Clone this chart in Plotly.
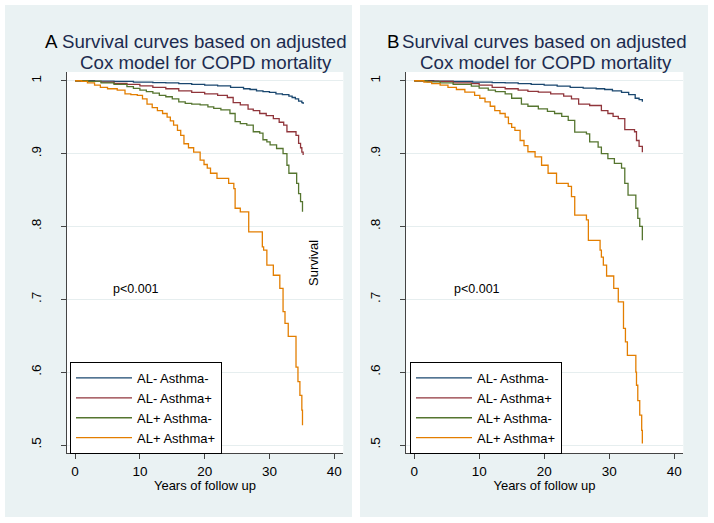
import plotly.graph_objects as go
from plotly.subplots import make_subplots

W, H = 714, 523

groups = ["AL- Asthma-", "AL- Asthma+", "AL+ Asthma-", "AL+ Asthma+"]
colors = ["#1a476f", "#90353b", "#55752f", "#e37e00"]

x_ticks = [0, 10, 20, 30, 40]
y_ticks = [0.5, 0.6, 0.7, 0.8, 0.9, 1.0]
y_ticktext = [".5", ".6", ".7", ".8", ".9", "1"]

# Panel A - years of follow up / survival (step curves)
a_blue_t = [0, 3, 6, 9, 12, 14, 16, 18, 20, 22, 24, 26, 27, 28, 29, 30, 31, 32, 33, 33.5, 34, 34.5, 35, 35.2]
a_blue_s = [1, 0.9995, 0.999, 0.998, 0.9975, 0.997, 0.996, 0.995, 0.994, 0.993, 0.991, 0.989, 0.988, 0.986,
            0.985, 0.984, 0.982, 0.981, 0.979, 0.977, 0.975, 0.972, 0.970, 0.968]
a_red_t = [0, 2, 4, 6, 8, 10, 12, 14, 16, 18, 20, 22, 23.5, 24.4, 25.5, 26.7, 27.5, 28.5, 29.5, 30.6, 31.5,
           32.2, 32.7, 34.1, 34.5, 34.8, 35.0, 35.2]
a_red_s = [1, 0.999, 0.998, 0.9965, 0.995, 0.993, 0.991, 0.989, 0.986, 0.984, 0.982, 0.980, 0.977, 0.970,
           0.967, 0.961, 0.959, 0.955, 0.952, 0.948, 0.943, 0.939, 0.930, 0.925, 0.914, 0.908, 0.902, 0.898]
a_green_t = [0, 2, 4, 6, 8, 9, 10, 11, 12, 13, 14, 15, 16, 17, 18, 19.3, 20.5, 21.4, 22.5, 23.9, 24.7, 25.5,
             26.5, 27.5, 28.5, 29.0, 29.6, 30.1, 31.1, 32.1, 32.7, 33.0, 34.2, 34.5, 34.8, 35.1]
a_green_s = [1, 0.999, 0.997, 0.995, 0.992, 0.9895, 0.987, 0.985, 0.983, 0.980, 0.978, 0.975, 0.971, 0.969,
             0.968, 0.967, 0.964, 0.962, 0.960, 0.955, 0.944, 0.941, 0.939, 0.930, 0.928, 0.919, 0.916, 0.912,
             0.907, 0.900, 0.884, 0.873, 0.859, 0.845, 0.834, 0.820]
a_orange_t = [0, 1.0, 1.9, 3.0, 3.9, 5.0, 6.5, 7.7, 8.6, 9.6, 10.4, 11.1, 11.9, 12.7, 13.5, 14.2, 14.7, 15.2,
              15.8, 16.3, 16.8, 17.5, 18.3, 19.3, 19.9, 20.4, 20.9, 21.9, 23.7, 24.5, 24.7, 25.5, 26.8, 28.9,
              29.1, 29.6, 30.6, 31.6, 32.1, 32.4, 32.9, 34.1, 34.4, 34.7, 35.0, 35.1]
a_orange_s = [1, 0.999, 0.997, 0.994, 0.991, 0.989, 0.987, 0.982, 0.981, 0.980, 0.975, 0.968, 0.963, 0.959,
              0.955, 0.950, 0.945, 0.939, 0.932, 0.925, 0.9135, 0.908, 0.902, 0.891, 0.885, 0.880, 0.873,
              0.866, 0.859, 0.852, 0.825, 0.820, 0.7926, 0.772, 0.7675, 0.747, 0.733, 0.715, 0.683, 0.667,
              0.649, 0.607, 0.587, 0.568, 0.548, 0.527]

# Panel B
b_blue_t = [0, 3, 6, 9, 12, 14, 16, 18, 20, 22, 24, 26, 28, 29.3, 30.5, 31.9, 33, 34, 34.6, 35.1]
b_blue_s = [1, 0.9995, 0.999, 0.998, 0.9975, 0.997, 0.996, 0.995, 0.994, 0.9925, 0.991, 0.990, 0.989, 0.988,
            0.986, 0.984, 0.981, 0.976, 0.974, 0.971]
b_red_t = [0, 2, 3.7, 6, 8.8, 10, 12, 14, 16, 17.5, 19.1, 21, 23, 24.2, 25.3, 27, 28.8, 29.8, 30.6, 31.4, 32.4,
           33.9, 34.2, 34.6, 35.1]
b_red_s = [1, 0.9995, 0.999, 0.997, 0.996, 0.994, 0.991, 0.989, 0.987, 0.9855, 0.9845, 0.982, 0.979, 0.975,
           0.968, 0.966, 0.959, 0.955, 0.951, 0.948, 0.933, 0.930, 0.918, 0.910, 0.902]
b_green_t = [0, 2, 4, 6, 8.8, 10, 11.4, 12.5, 14.0, 15, 16.5, 17.5, 19.1, 20.5, 21.6, 22.7, 23.7, 24.7, 26.5,
             27.0, 28.3, 28.8, 29.8, 30.8, 31.9, 32.4, 32.9, 34.1, 34.4, 34.7, 35.1]
b_green_s = [1, 0.9985, 0.997, 0.995, 0.9927, 0.990, 0.987, 0.985, 0.982, 0.976, 0.968, 0.965, 0.9615, 0.958,
             0.955, 0.951, 0.9456, 0.9295, 0.927, 0.916, 0.909, 0.900, 0.893, 0.8865, 0.880, 0.859, 0.843,
             0.825, 0.811, 0.800, 0.781]
b_orange_t = [0, 1.5, 2.7, 4, 5.2, 6.5, 7.8, 9.3, 10.1, 10.9, 11.7, 12.4, 13.2, 14.0, 14.5, 15.0, 15.5, 16.3,
              16.9, 17.5, 18.6, 19.6, 20.6, 21.9, 23.7, 24.2, 24.7, 26.5, 26.8, 28.6, 28.8, 29.1, 29.6, 30.7,
              31.4, 32.2, 32.5, 32.8, 34.1, 34.2, 34.4, 34.7, 35.0, 35.1]
b_orange_s = [1, 0.998, 0.996, 0.994, 0.991, 0.988, 0.9845, 0.980, 0.976, 0.971, 0.965, 0.959, 0.955, 0.950,
              0.941, 0.936, 0.932, 0.918, 0.911, 0.9025, 0.8956, 0.884, 0.873, 0.859, 0.855, 0.841, 0.8155,
              0.809, 0.781, 0.7675, 0.758, 0.747, 0.732, 0.715, 0.6965, 0.660, 0.6415, 0.623, 0.600, 0.582,
              0.561, 0.541, 0.520, 0.502]

panel_a = [(a_blue_t, a_blue_s), (a_red_t, a_red_s), (a_green_t, a_green_s), (a_orange_t, a_orange_s)]
panel_b = [(b_blue_t, b_blue_s), (b_red_t, b_red_s), (b_green_t, b_green_s), (b_orange_t, b_orange_s)]

FONT = "Liberation Sans, Arial, sans-serif"
BG = "#eaf2f3"
TITLE_COLOR = "#1c2b4f"


def px(x):
    return x / W


def py(y):
    return 1 - y / H


fig = make_subplots(rows=1, cols=2)

for col, (panel, legend_id) in enumerate([(panel_a, "legend"), (panel_b, "legend2")], start=1):
    for name, color, (t, s) in zip(groups, colors, panel):
        fig.add_trace(go.Scatter(x=t, y=s, mode="lines", name=name, line=dict(color=color, width=1.3, shape="hv"),
                                 legend=legend_id), row=1, col=col)

# panel backgrounds (light bluish grey) and white plot regions on top of them
for x0, x1 in [(5, 352), (360, 708)]:
    fig.add_shape(type="rect", xref="paper", yref="paper", x0=px(x0), x1=px(x1), y0=py(517), y1=py(5),
                  fillcolor=BG, line_width=0, layer="below")
for xa, ya in [("x", "y"), ("x2", "y2")]:
    fig.add_shape(type="rect", xref=xa + " domain", yref=ya + " domain", x0=0, x1=1, y0=0, y1=1,
                  fillcolor="white", line_width=0, layer="below")

axis_common = dict(showline=True, linecolor="#444", linewidth=1, ticks="outside", ticklen=5, tickcolor="#444",
                   tickfont=dict(family=FONT, size=13.5, color="black"), zeroline=False)
fig.update_xaxes(range=[-1.3, 41.4], tickvals=x_ticks, showgrid=False, **axis_common)
fig.update_yaxes(range=[0.4886, 1.012], tickvals=y_ticks, ticktext=y_ticktext, tickangle=-90, showgrid=True,
                 gridcolor="#e6eeef", gridwidth=1, ticklabelstandoff=14, **axis_common)
fig.update_xaxes(title_text="Years of follow up", title_font=dict(family=FONT, size=13, color="black"),
                 title_standoff=0)

fig.update_layout(
    xaxis=dict(domain=[px(66.7), px(343.3)]),
    xaxis2=dict(domain=[px(405.7), px(683.3)]),
    yaxis=dict(domain=[py(453.3), py(72)]),
    yaxis2=dict(domain=[py(453.3), py(72)]),
)

legend_style = dict(xanchor="left", yanchor="top", bgcolor="white", bordercolor="black", borderwidth=1,
                    font=dict(family=FONT, size=13, color="black"), itemwidth=56, tracegroupgap=0)
fig.update_layout(
    legend=dict(x=px(70), y=py(362), **legend_style),
    legend2=dict(x=px(410), y=py(362), **legend_style),
)

annotations = []
for letter, letter_x, title_cx, p_cx in [("A", 51, 204.5, 136), ("B", 393, 544, 477)]:
    annotations.append(dict(text=letter, x=px(letter_x), y=py(42)))
    annotations.append(dict(text="Survival curves based on adjusted", x=px(title_cx), y=py(42),
                            font=dict(color=TITLE_COLOR)))
    annotations.append(dict(text="Cox model for COPD mortality", x=px(title_cx + 1.5), y=py(62),
                            font=dict(color=TITLE_COLOR)))
    annotations.append(dict(text="p<0.001", x=px(p_cx), y=py(289), font=dict(size=12.5)))
annotations.append(dict(text="Survival", x=px(313), y=py(263), textangle=-90, font=dict(size=13)))

for ann in annotations:
    font = dict(family=FONT, size=18.7, color="black")
    font.update(ann.get("font", {}))
    ann.update(xref="paper", yref="paper", xanchor="center", yanchor="middle", showarrow=False, font=font)

fig.update_layout(
    width=W, height=H, margin=dict(l=0, r=0, t=0, b=0),
    paper_bgcolor="white", plot_bgcolor="white",
    annotations=annotations, showlegend=True,
)

fig.write_html("out.html", config={"displayModeBar": False},
               post_script="document.body.style.margin = '0';")
